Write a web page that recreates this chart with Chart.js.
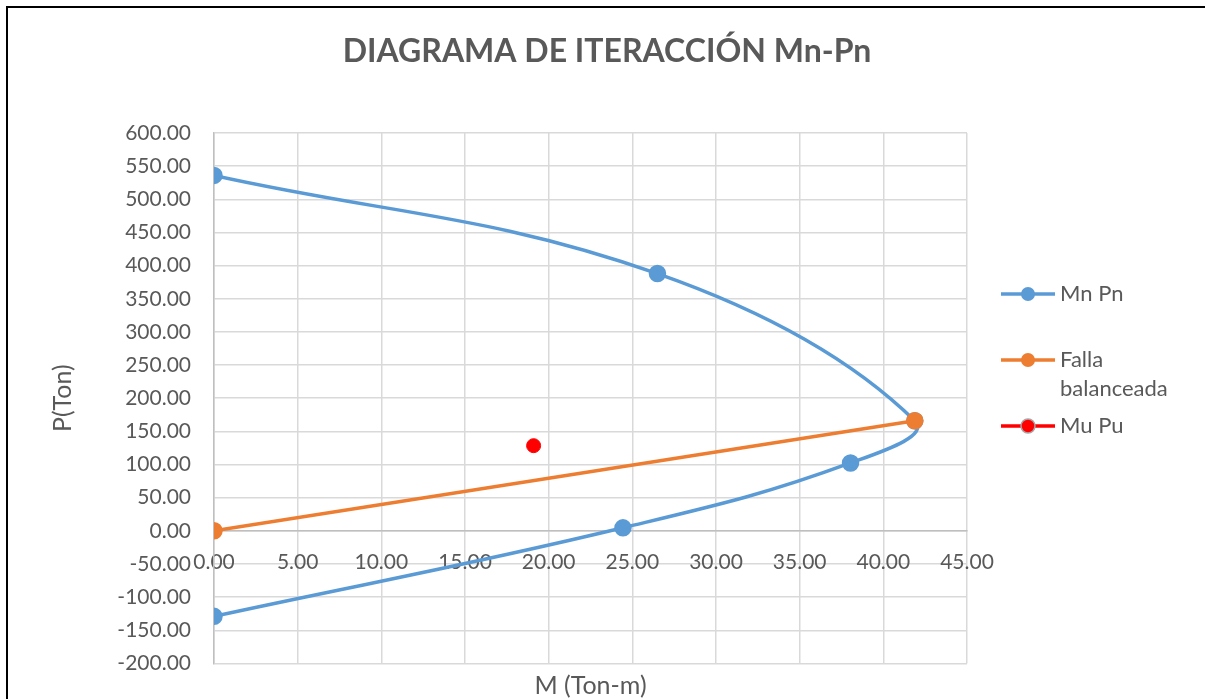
<!DOCTYPE html>
<html>
<head>
<meta charset="utf-8">
<script src="https://cdn.jsdelivr.net/npm/chart.js@4.4.1/dist/chart.umd.min.js"></script>
<style>
  html, body { margin: 0; padding: 0; background: #ffffff; }
  #wrap { width: 1205px; height: 699px; }
</style>
</head>
<body>
<div id="wrap"><canvas id="diagrama" width="1205" height="699"></canvas></div>
<script>
// Curva de interacción (momento / carga nominal)
const mnValues = [0, 26.5, 41.88, 38.04, 24.44, 0];
const pnValues = [536, 388, 166, 102.3, 4.5, -129];

// Falla balanceada: origen -> punto balanceado
const balancedM = [0, 41.88];
const balancedP = [0, 166];

// Carga última
const muValues = [19.1];
const puValues = [128.4];

const seriesNames = ["Mn Pn", "Falla balanceada", "Mu Pu"];
const legendLines = [["Mn Pn"], ["Falla", "balanceada"], ["Mu Pu"]];
const chartTitle = "DIAGRAMA DE ITERACCIÓN Mn-Pn";

const X_MIN = 0, X_MAX = 45, X_STEP = 5;
const Y_MIN = -200, Y_MAX = 600, Y_STEP = 50;

const BLUE = "#5b9bd5";
const ORANGE = "#ed7d31";
const RED = "#ff0000";
const TEXT = "#595959";
const GRID = "#d9d9d9";
const FONT = "Lato, 'Open Sans', sans-serif";

function toPoints(xs, ys) {
  return xs.map((x, i) => ({ x, y: ys[i] }));
}

// marco, título, leyenda y título del eje X dibujados a mano
const decorPlugin = {
  id: "decor",
  afterDraw(chart) {
    const { ctx, chartArea } = chart;
    ctx.save();

    ctx.fillStyle = "#000000";
    ctx.fillRect(6, 6, 1199, 2);
    ctx.fillRect(6, 6, 2, 693);

    ctx.fillStyle = TEXT;
    ctx.textAlign = "center";
    ctx.textBaseline = "middle";
    ctx.font = `bold 32px ${FONT}`;
    ctx.fillText(chartTitle, 607, 52);

    ctx.font = `25px ${FONT}`;
    ctx.fillText("M (Ton-m)", (chartArea.left + chartArea.right) / 2, 686);

    ctx.font = `22px ${FONT}`;
    const rows = [294, 360, 426];
    chart.data.datasets.forEach((ds, i) => {
      const y = rows[i];
      ctx.strokeStyle = ds.borderColor;
      ctx.lineWidth = 3.5;
      ctx.beginPath();
      ctx.moveTo(1001, y);
      ctx.lineTo(1055, y);
      ctx.stroke();

      ctx.beginPath();
      ctx.arc(1028, y, 7, 0, Math.PI * 2);
      ctx.fillStyle = ds.pointBackgroundColor;
      ctx.fill();
      if (i === 2) {
        ctx.strokeStyle = "#a6a6a6";
        ctx.lineWidth = 1.5;
        ctx.stroke();
      }

      ctx.fillStyle = TEXT;
      ctx.textAlign = "left";
      legendLines[i].forEach((line, k) => {
        ctx.fillText(line, 1060, y + k * 29);
      });
    });

    ctx.restore();
  },
};

new Chart(document.getElementById("diagrama"), {
  type: "scatter",
  data: {
    datasets: [
      {
        label: seriesNames[0],
        data: toPoints(mnValues, pnValues),
        showLine: true,
        tension: 0.4,
        borderColor: BLUE,
        borderWidth: 3.5,
        pointBackgroundColor: BLUE,
        pointBorderColor: BLUE,
        pointRadius: 7,
        order: 2,
      },
      {
        label: seriesNames[1],
        data: toPoints(balancedM, balancedP),
        showLine: true,
        borderColor: ORANGE,
        borderWidth: 3.5,
        pointBackgroundColor: ORANGE,
        pointBorderColor: ORANGE,
        pointRadius: 7,
        order: 1,
      },
      {
        label: seriesNames[2],
        data: toPoints(muValues, puValues),
        showLine: false,
        borderColor: RED,
        pointBackgroundColor: RED,
        pointBorderColor: RED,
        pointRadius: 7,
        order: 0,
      },
    ],
  },
  options: {
    responsive: false,
    animation: false,
    layout: { padding: { left: 0, right: 238, top: 133, bottom: 34 } },
    plugins: {
      legend: { display: false },
      tooltip: { enabled: false },
      title: { display: false },
    },
    scales: {
      x: {
        type: "linear",
        position: { y: 0 },
        min: X_MIN,
        max: X_MAX,
        grid: { color: GRID, lineWidth: 1.5, drawTicks: false },
        border: { color: "#bfbfbf", width: 1.5 },
        ticks: {
          stepSize: X_STEP,
          padding: 19,
          color: TEXT,
          font: { family: FONT, size: 21 },
          callback: (v) => v.toFixed(2),
        },
      },
      y: {
        type: "linear",
        min: Y_MIN,
        max: Y_MAX,
        afterFit(scale) {
          scale.width = 214;
        },
        grid: { color: GRID, lineWidth: 1.5, drawTicks: false },
        border: { color: "#bfbfbf", width: 1.5 },
        title: {
          display: true,
          text: "P(Ton)",
          color: TEXT,
          font: { family: FONT, size: 25 },
          padding: { top: 48, bottom: 0 },
        },
        ticks: {
          stepSize: Y_STEP,
          padding: 23,
          color: TEXT,
          font: { family: FONT, size: 21 },
          callback: (v) => v.toFixed(2),
        },
      },
    },
  },
  plugins: [decorPlugin],
});
</script>
</body>
</html>
